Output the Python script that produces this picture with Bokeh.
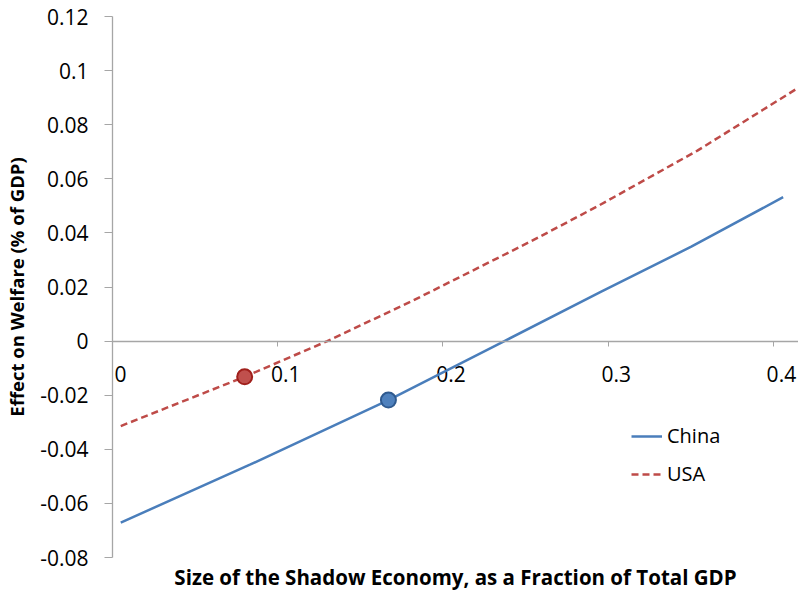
from bokeh.plotting import figure
from bokeh.models import Range1d, FixedTicker, Legend, LegendItem, Title
from bokeh.core.properties import value
from bokeh.embed import file_html
from bokeh.resources import INLINE

# ---- data ----
china_x = [0.005, 0.0835, 0.167, 0.2372, 0.2958, 0.3503, 0.4059]
china_y = [-0.0671, -0.0456, -0.0218, 0.0, 0.0183, 0.0349, 0.0532]

usa_x = [0.005, 0.080, 0.130, 0.1806, 0.253, 0.294, 0.354, 0.4152]
usa_y = [-0.0314, -0.0132, 0.0, 0.0146, 0.0368, 0.0500, 0.0704, 0.0937]

china_point_x = [0.167]
china_point_y = [-0.0218]
usa_point_x = [0.080]
usa_point_y = [-0.0132]

x_ticks = [0.0, 0.1, 0.2, 0.3, 0.4]
x_tick_labels = ["0", "0.1", "0.2", "0.3", "0.4"]
y_ticks = [-0.08, -0.06, -0.04, -0.02, 0.0, 0.02, 0.04, 0.06, 0.08, 0.1, 0.12]
y_tick_labels = ["-0.08", "-0.06", "-0.04", "-0.02", "0", "0.02", "0.04", "0.06", "0.08", "0.1", "0.12"]

series_names = ["China", "USA"]
x_title = "Size of the Shadow Economy, as a Fraction of Total GDP"
y_title = "Effect on Welfare (% of GDP)"

# ---- styles ----
BLUE = "#4A7EBB"
RED = "#BE4B48"
AXIS = "#A6A6A6"
FONT = "Open Sans"
TEXT = "#000000"

p = figure(frame_width=686, frame_height=541,
           x_range=Range1d(0, 0.4152), y_range=Range1d(-0.08, 0.12),
           output_backend="svg", toolbar_location=None,
           min_border_left=112, min_border_top=16, min_border_right=0, min_border_bottom=0)
p.grid.visible = False
p.outline_line_color = None
p.background_fill_color = "white"
p.border_fill_color = "white"

# x axis crossing at y = 0
xa = p.xaxis[0]
xa.fixed_location = 0
xa.ticker = FixedTicker(ticks=x_ticks)
xa.major_label_overrides = {t: "" for t in x_ticks}
xa.minor_tick_line_color = None
xa.major_tick_in = 0
xa.major_tick_out = 5
xa.axis_line_color = AXIS
xa.major_tick_line_color = AXIS
xa.axis_line_width = 1.3

# x tick labels (Excel places them slightly right of the ticks, below the zero line)
p.text(x=x_ticks, y=[0.0] * len(x_ticks), text=x_tick_labels,
       x_offset=8, y_offset=33, text_align="center", text_baseline="middle",
       text_font=value(FONT), text_font_size="21px", text_color=TEXT)

ya = p.yaxis[0]
ya.ticker = FixedTicker(ticks=y_ticks)
ya.major_label_overrides = dict(zip(y_ticks, y_tick_labels))
ya.minor_tick_line_color = None
ya.major_tick_in = 0
ya.major_tick_out = 8
ya.axis_line_color = AXIS
ya.major_tick_line_color = AXIS
ya.axis_line_width = 1.3
ya.major_label_standoff = 16
ya.major_label_text_font = FONT
ya.major_label_text_font_size = "21px"
ya.major_label_text_color = TEXT
ya.axis_label = y_title
ya.axis_label_text_font = FONT
ya.axis_label_text_font_size = "18.5px"
ya.axis_label_text_font_style = "bold"
ya.axis_label_text_color = TEXT
ya.axis_label_standoff = 8

r_china = p.line(china_x, china_y, line_color=BLUE, line_width=2.5)
r_usa = p.line(usa_x, usa_y, line_color=RED, line_width=2.5, line_dash="7 4")

p.scatter(usa_point_x, usa_point_y, size=15, fill_color="#C0504D", line_color="#A0201C", line_width=2)
p.scatter(china_point_x, china_point_y, size=15, fill_color="#4F81BD", line_color="#2F5A8F", line_width=2)

legend = Legend(items=[LegendItem(label=series_names[0], renderers=[r_china]),
                       LegendItem(label=series_names[1], renderers=[r_usa])],
                location=(519, 70), padding=0, margin=0, spacing=11,
                glyph_width=31, label_standoff=5,
                border_line_alpha=0, background_fill_alpha=0,
                label_text_font=FONT, label_text_font_size="20px", label_text_color=TEXT)
p.add_layout(legend)

p.add_layout(Title(text=x_title, align="center", offset=10, standoff=7,
                   text_font=FONT, text_font_size="20.5px", text_font_style="bold",
                   text_color=TEXT), "below")

open("out.html", "w").write(file_html(p, INLINE))
